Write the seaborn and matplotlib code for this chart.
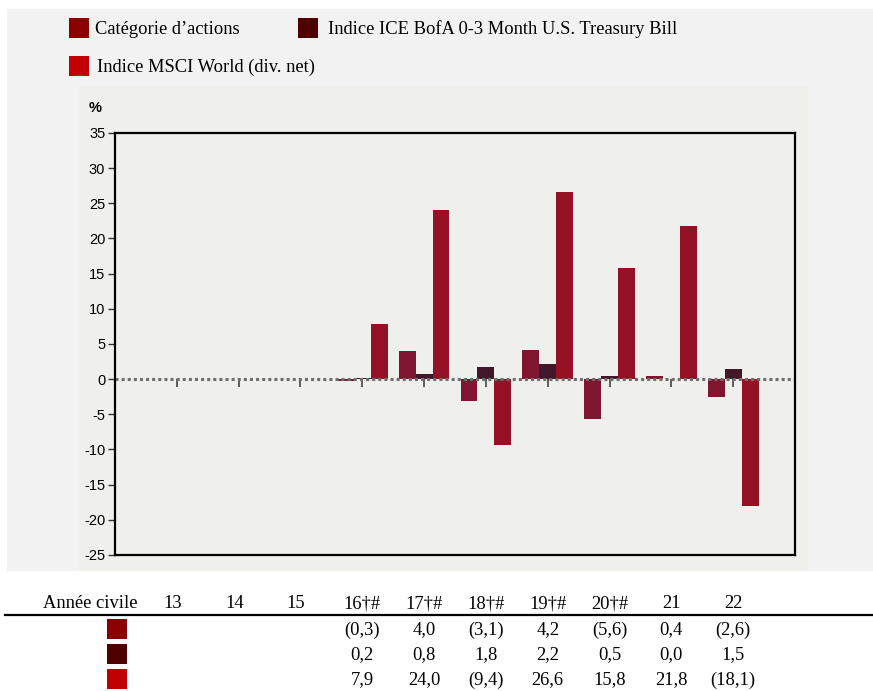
import numpy as np
import pandas as pd
import matplotlib
matplotlib.use("Agg")
import matplotlib.pyplot as plt
import seaborn as sns
from matplotlib.patches import Rectangle
from matplotlib.transforms import blended_transform_factory

# data
years = ["13", "14", "15", "16", "17", "18", "19", "20", "21", "22"]
year_labels = ["13", "14", "15", "16†#", "17†#", "18†#", "19†#", "20†#", "21", "22"]
series = ["Catégorie d’actions",
          "Indice ICE BofA 0-3 Month U.S. Treasury Bill",
          "Indice MSCI World (div. net)"]
categorie = [np.nan, np.nan, np.nan, -0.3, 4.0, -3.1, 4.2, -5.6, 0.4, -2.6]
ice_bofa = [np.nan, np.nan, np.nan, 0.2, 0.8, 1.8, 2.2, 0.5, 0.0, 1.5]
msci_world = [np.nan, np.nan, np.nan, 7.9, 24.0, -9.4, 26.6, 15.8, 21.8, -18.1]

bar_colors = ["#80152f", "#43172a", "#951226"]
key_colors = ["#8b0000", "#4f0000", "#c00000"]

rows = []
for s, vals in zip(series, [categorie, ice_bofa, msci_world]):
    for y, v in zip(years, vals):
        rows.append({"year": y, "series": s, "value": v})
df = pd.DataFrame(rows)

plt.rcParams["axes.unicode_minus"] = False

W, H = 873, 691
fig = plt.figure(figsize=(W / 100, H / 100), dpi=100)
fig.patch.set_facecolor("white")


def px_rect(x0, y0, x1, y1, color, z=0):
    # rectangle given in pixel coords (top-left origin)
    fig.add_artist(Rectangle((x0 / W, 1 - y1 / H), (x1 - x0) / W, (y1 - y0) / H,
                             transform=fig.transFigure, facecolor=color,
                             edgecolor="none", zorder=z))


# background panels
px_rect(7, 9, W, 571, "#f2f2f2", -3)
px_rect(79, 86, 808, 571, "#efefeb", -2)

ax = fig.add_axes([115 / W, 1 - 555 / H, 680 / W, 422 / H])
ax.set_facecolor("#efefeb")

sns.barplot(data=df, x="year", y="value", hue="series", order=years,
            hue_order=series, palette=bar_colors, saturation=1,
            errorbar=None, width=0.82, linewidth=0, legend=False, ax=ax)

ax.set_xlim(-1, 10)
ax.set_ylim(-25, 35)
ax.set_yticks(range(-25, 36, 5))
ax.set_xticks([])
ax.set_xlabel("")
ax.set_ylabel("")
for sp in ax.spines.values():
    sp.set_color("black")
    sp.set_linewidth(1.6)
ax.tick_params(axis="y", direction="out", length=5, width=1, color="#333333",
               pad=2, labelsize=10.5)
for lab in ax.get_yticklabels():
    lab.set_family("Liberation Sans")

ax.axhline(0, color="#6e6e6e", lw=2.2, ls=(0, (1, 1)), zorder=1)

# category ticks sitting on the zero line
sec = ax.secondary_xaxis(25 / 60)
sec.set_xticks(range(len(years)))
sec.set_xticklabels([""] * len(years))
sec.spines["bottom"].set_visible(False)
sec.tick_params(direction="out", length=6, width=1.2, color="#444444")

fig.text(95 / W, 1 - 108 / H, "%", family="Liberation Sans",
         fontweight="bold", fontsize=10.5, va="center", ha="center")

# legend keys
legend_pos = [(69, 18, 95), (298, 18, 328), (69, 56, 97)]
for (sx, sy, tx), col, name in zip(legend_pos, key_colors, series):
    px_rect(sx, sy, sx + 20, sy + 20, col, 1)
    fig.text(tx / W, 1 - (sy + 11) / H, name, family="Liberation Serif",
             fontsize=13.3, ha="left", va="center")

# table below the chart
tr = blended_transform_factory(ax.transData, fig.transFigure)
fig.text(90 / W, 1 - 604 / H, "Année civile", family="Liberation Serif",
         fontsize=13.3, ha="center", va="center")
for i, lab in enumerate(year_labels):
    ax.text(i - 0.07 if i < 3 else i, 1 - 604 / H, lab, transform=tr,
            family=["Liberation Serif", "DejaVu Serif"], fontsize=13.3,
            ha="center", va="center")
fig.add_artist(plt.Line2D([5 / W, 1], [1 - 614.5 / H] * 2, color="black",
                          lw=1.6, transform=fig.transFigure))


def fmt(v):
    if np.isnan(v):
        return ""
    s = f"{abs(v):.1f}".replace(".", ",")
    return f"({s})" if v < 0 else s


row_y = [629, 654, 679]
for vals, col, py in zip([categorie, ice_bofa, msci_world], key_colors, row_y):
    px_rect(107, py - 10, 127, py + 10, col, 1)
    for i, v in enumerate(vals):
        ax.text(i, 1 - (py + 1) / H, fmt(v), transform=tr,
                family="Liberation Serif", fontsize=13.3,
                ha="center", va="center")

fig.savefig("out.png", dpi=100)
